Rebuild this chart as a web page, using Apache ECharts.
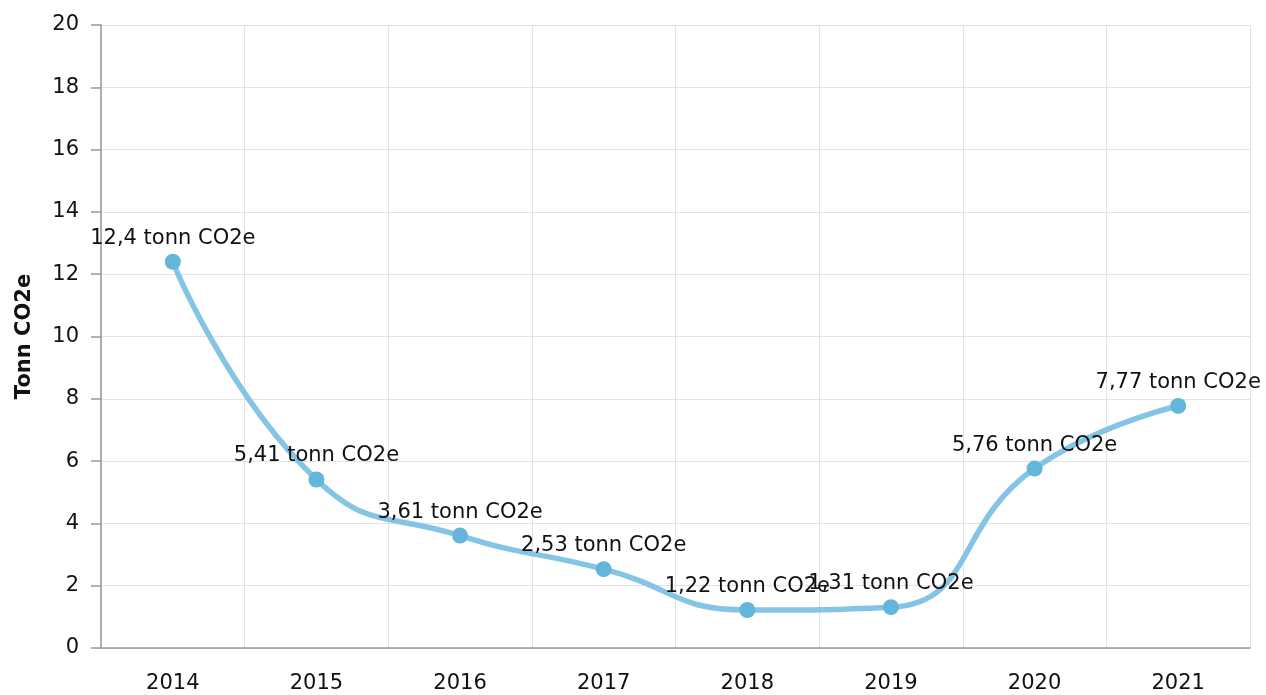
<!DOCTYPE html>
<html>
<head>
<meta charset="utf-8">
<script src="https://cdn.jsdelivr.net/npm/echarts@6/dist/echarts.min.js"></script>
<style>
  html, body { margin: 0; padding: 0; background: #fff; }
  #chart { width: 1266px; height: 695px; }
</style>
</head>
<body>
<div id="chart"></div>
<script>
// år og utslipp (tonn CO2e)
const years = ['2014', '2015', '2016', '2017', '2018', '2019', '2020', '2021'];
const emissions = [12.4, 5.41, 3.61, 2.53, 1.22, 1.31, 5.76, 7.77];
const yTicks = { min: 0, max: 20, interval: 2 };

const font = 'DejaVu Sans, Verdana, sans-serif';

const chart = echarts.init(document.getElementById('chart'));
chart.setOption({
  animation: false,
  grid: { left: 101, right: 16, top: 25, bottom: 47 },
  xAxis: {
    type: 'category',
    data: years,
    boundaryGap: true,
    axisLine: { lineStyle: { color: '#999', width: 1.5 } },
    axisTick: { alignWithLabel: true, length: 9, lineStyle: { color: '#999', width: 1.5 } },
    axisLabel: { color: '#111', fontSize: 21, fontFamily: font, margin: 25 },
    splitLine: { show: true, lineStyle: { color: '#e3e3e3' } }
  },
  yAxis: {
    type: 'value',
    min: yTicks.min,
    max: yTicks.max,
    interval: yTicks.interval,
    name: 'Tonn CO2e',
    nameLocation: 'middle',
    nameGap: 66,
    nameTextStyle: { color: '#111', fontSize: 21, fontWeight: 'bold', fontFamily: font },
    axisLine: { show: true, lineStyle: { color: '#999', width: 1.5 } },
    axisTick: { show: true, length: 10, lineStyle: { color: '#999', width: 1.5 } },
    axisLabel: { color: '#111', fontSize: 21, fontFamily: font, margin: 22 },
    splitLine: { lineStyle: { color: '#e3e3e3' } }
  },
  series: [{
    type: 'line',
    data: emissions,
    smooth: true,
    symbol: 'circle',
    symbolSize: 16,
    lineStyle: { color: '#84c5e5', width: 5.5 },
    itemStyle: { color: '#64b5dc' },
    label: {
      show: true,
      position: 'top',
      distance: 5,
      color: '#111',
      fontSize: 21,
      fontFamily: font,
      formatter: p => String(p.value).replace('.', ',') + ' tonn CO2e'
    }
  }]
});
</script>
</body>
</html>
